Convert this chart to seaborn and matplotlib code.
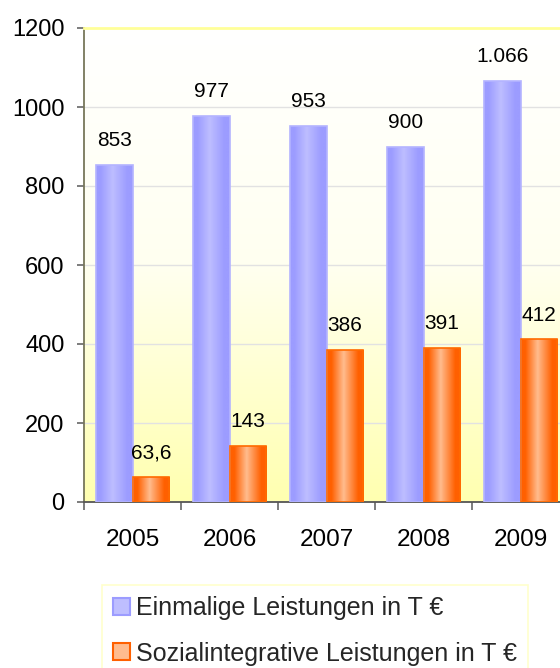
import numpy as np
import pandas as pd
import matplotlib
matplotlib.use("Agg")
import matplotlib.pyplot as plt
import matplotlib.colors as mcolors
from matplotlib.patches import Rectangle
import seaborn as sns

# data
years = ["2005", "2006", "2007", "2008", "2009"]
einmalig = [853, 977, 953, 900, 1066]
sozial = [63.6, 143, 386, 391, 412]
einmalig_labels = ["853", "977", "953", "900", "1.066"]
sozial_labels = ["63,6", "143", "386", "391", "412"]
series = ["Einmalige Leistungen in T €", "Sozialintegrative Leistungen in T €"]

df = pd.DataFrame({
    "Jahr": years * 2,
    "Wert": einmalig + sozial,
    "Serie": [series[0]] * len(years) + [series[1]] * len(years),
})

sns.set_theme(style="white")
plt.rcParams["font.family"] = ["Liberation Sans", "DejaVu Sans"]

blue_edge, blue_mid = "#9c9cff", "#bebeff"
orange_edge, orange_mid = "#ff6000", "#ffbc8e"

fig = plt.figure(figsize=(5.6, 6.68), dpi=100)
ax = fig.add_axes([84 / 560, 166 / 668, 485 / 560, 474 / 668])

sns.barplot(data=df, x="Jahr", y="Wert", hue="Serie", order=years, hue_order=series,
            palette=[blue_edge, orange_edge], width=0.76, gap=0, ax=ax, zorder=3)
ax.get_legend().remove()

ax.set_xlim(-0.5, 4.5)
ax.set_ylim(0, 1200)

# background gradient (white top -> pale yellow bottom)
bg = np.linspace(0, 1, 256)[:, None]
bg_cmap = mcolors.LinearSegmentedColormap.from_list("bg", ["#ffffff", "#fffff0", "#ffffb0"])
ax.imshow(bg, cmap=bg_cmap, extent=[0, 1, 0, 1], transform=ax.transAxes,
          aspect="auto", zorder=0, interpolation="bilinear")

# horizontal gradients inside the bars
def bar_cmap(edge, mid):
    return mcolors.LinearSegmentedColormap.from_list(
        "b", [(0, edge), (0.12, edge), (0.45, mid), (0.85, edge), (1, edge)])

grad = np.linspace(0, 1, 128)[None, :]
n = len(years)
for i, patch in enumerate(ax.patches[:2 * n]):
    if i < n:
        cmap, ec = bar_cmap(blue_edge, blue_mid), "#b4b4ff"
    else:
        cmap, ec = bar_cmap(orange_edge, orange_mid), "#ff6a00"
    x0, w, h = patch.get_x(), patch.get_width(), patch.get_height()
    im = ax.imshow(grad, cmap=cmap, extent=[x0, x0 + w, 0, h], aspect="auto",
                   zorder=2.9, interpolation="bilinear")
    im.set_clip_path(patch)
    patch.set_facecolor("none")
    patch.set_edgecolor(ec)
    patch.set_linewidth(1.2)

ax.set_xlim(-0.5, 4.5)
ax.set_ylim(0, 1200)

# value labels
for i in range(n):
    blue_bar = ax.patches[i]
    org_bar = ax.patches[n + i]
    ax.annotate(einmalig_labels[i], (blue_bar.get_x() + blue_bar.get_width() / 2, einmalig[i]),
                xytext=(0, 13.5), textcoords="offset points", ha="center", va="baseline",
                fontsize=15, color="black", zorder=5)
    ax.annotate(sozial_labels[i], (org_bar.get_x() + org_bar.get_width() / 2, sozial[i]),
                xytext=(0, 13.5), textcoords="offset points", ha="center", va="baseline",
                fontsize=15, color="black", zorder=5)

# grid, spines, ticks
ax.set_yticks(range(0, 1201, 200))
for y in range(200, 1200, 200):
    ax.axhline(y, color="#e2e2e2", lw=1, zorder=1)
ax.spines["top"].set_color("#ffff99")
ax.spines["top"].set_linewidth(2)
ax.spines["left"].set_color("#77775a")
ax.spines["left"].set_linewidth(1.3)
ax.spines["bottom"].set_color("#555555")
ax.spines["bottom"].set_linewidth(1.3)
ax.spines["right"].set_visible(False)

ax.tick_params(axis="y", which="major", left=True, length=5, width=1.2, color="#666666",
               direction="out", pad=9, labelsize=17, labelcolor="black")
ax.tick_params(axis="x", which="major", length=0, pad=19.5, labelsize=17.5, labelcolor="black")
ax.set_xticks([i - 0.5 for i in range(n + 1)], minor=True)
ax.tick_params(axis="x", which="minor", bottom=True, length=6, width=1.2,
               color="#666666", direction="out")
ax.set_xlabel("")
ax.set_ylabel("")

# legend below the plot
handles = [Rectangle((0, 0), 1, 1, facecolor=blue_mid, edgecolor=blue_edge, lw=1.5),
           Rectangle((0, 0), 1, 1, facecolor=orange_mid, edgecolor=orange_edge, lw=1.5)]
leg = fig.legend(handles, series, loc="upper left", bbox_to_anchor=(102 / 560, 1 - 585 / 668),
                 frameon=True, fancybox=False, fontsize=18, handlelength=0.65,
                 handleheight=0.65, handletextpad=0.25, labelspacing=0.85,
                 borderpad=0.45, borderaxespad=0)
leg.get_frame().set_edgecolor("#ffffc0")
leg.get_frame().set_facecolor("white")
leg.get_frame().set_linewidth(1.2)

fig.savefig("out.png", dpi=100)
